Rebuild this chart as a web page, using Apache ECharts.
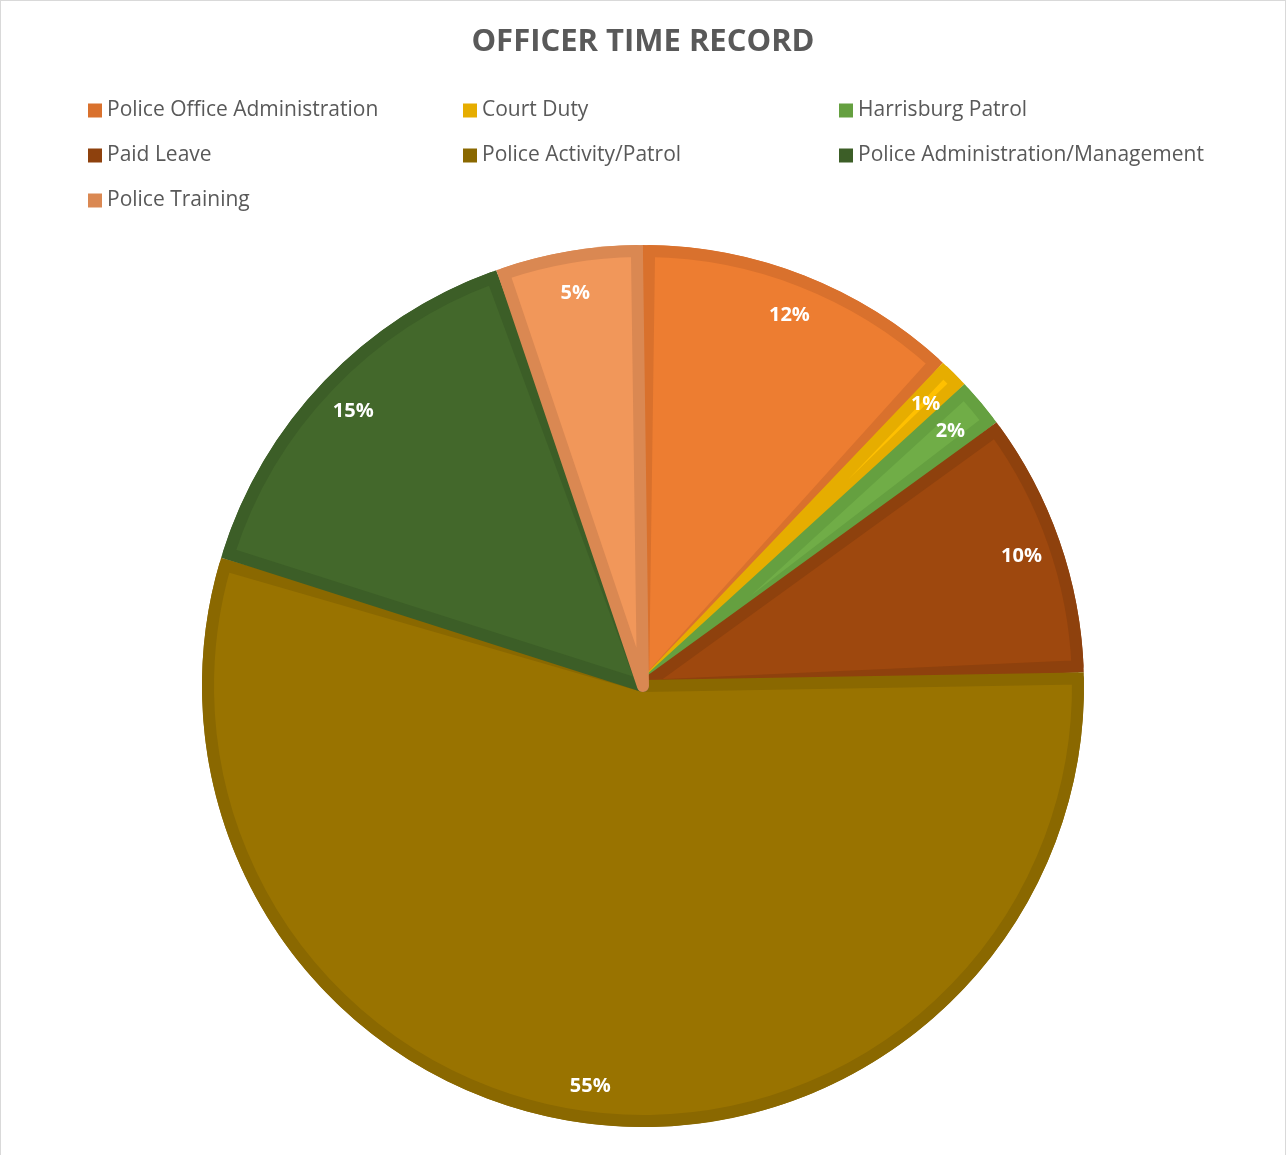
<!DOCTYPE html>
<html><head><meta charset="utf-8">
<script src="https://cdn.jsdelivr.net/npm/echarts@6/dist/echarts.min.js"></script>
<style>
html,body{margin:0;padding:0;background:#fff;}
#c{position:absolute;left:0;top:0;width:1286px;height:1155px;}
#frame{position:absolute;left:0;top:0;width:1284px;height:1160px;border:1px solid #D9D9D9;pointer-events:none;}
</style></head>
<body><div id="c"></div><div id="frame"></div>
<script>
const categories = ['Police Office Administration','Court Duty','Harrisburg Patrol','Paid Leave','Police Activity/Patrol','Police Administration/Management','Police Training'];
const values = [11.9, 1.1, 1.8, 9.7, 55.2, 14.9, 5.4];
const fillColors = ['#ED7D31','#FFC000','#70AD47','#9E480E','#997300','#43682B','#F1975A'];
const edgeColors = ['#D9712D','#E6AD00','#65A040','#8E410D','#8A6800','#3C5E27','#DA8852'];
const legendCol1 = ['Police Office Administration','Paid Leave','Police Training'];
const legendCol2 = ['Court Duty','Police Activity/Patrol'];
const legendCol3 = ['Harrisburg Patrol','Police Administration/Management'];
const titleText = 'OFFICER TIME RECORD';

const FONT = 'Open Sans';
const center = [643, 686];

function mk(colorArr, extra){
  return categories.map((n,i)=>({name:n, value:values[i], itemStyle:Object.assign({color:colorArr[i]}, extra?extra(i):{})}));
}
const legendBase = {orient:'vertical', icon:'rect', itemWidth:14, itemHeight:14, itemGap:24, top:100, padding:0,
  textStyle:{fontSize:21, lineHeight:21, color:'#595959', fontFamily:FONT}, selectedMode:false};

const chart = echarts.init(document.getElementById('c'), null, {renderer:'canvas'});
chart.setOption({
  animation:false,
  backgroundColor:'#fff',
  title:{text:titleText, left:'center', top:22, textStyle:{fontSize:31, fontWeight:'bold', color:'#595959', fontFamily:FONT}},
  legend:[
    Object.assign({left:88, data:legendCol1}, legendBase),
    Object.assign({left:463, data:legendCol2}, legendBase),
    Object.assign({left:839, data:legendCol3}, legendBase)
  ],
  series:[
    {type:'pie', center:center, radius:441, startAngle:90, clockwise:true, silent:true,
     label:{show:false}, labelLine:{show:false}, emphasis:{disabled:true},
     data:mk(edgeColors)},
    {type:'pie', center:center, radius:435, startAngle:90, clockwise:true, silent:true, padAngle:1.6,
     label:{show:false}, labelLine:{show:false}, emphasis:{disabled:true},
     data:mk(fillColors, i=>({borderColor:edgeColors[i], borderWidth:12}))},
    {type:'pie', center:[643, 689], radius:[356,440], startAngle:90, clockwise:true, silent:true,
     labelLine:{show:false}, emphasis:{disabled:true},
     label:{show:true, position:'inside', color:'#fff', fontSize:20, fontWeight:'bold', fontFamily:FONT,
       formatter:p=>Math.round(p.percent)+'%'},
     data:mk(categories.map(()=> 'rgba(0,0,0,0)'))}
  ]
});
</script></body></html>
